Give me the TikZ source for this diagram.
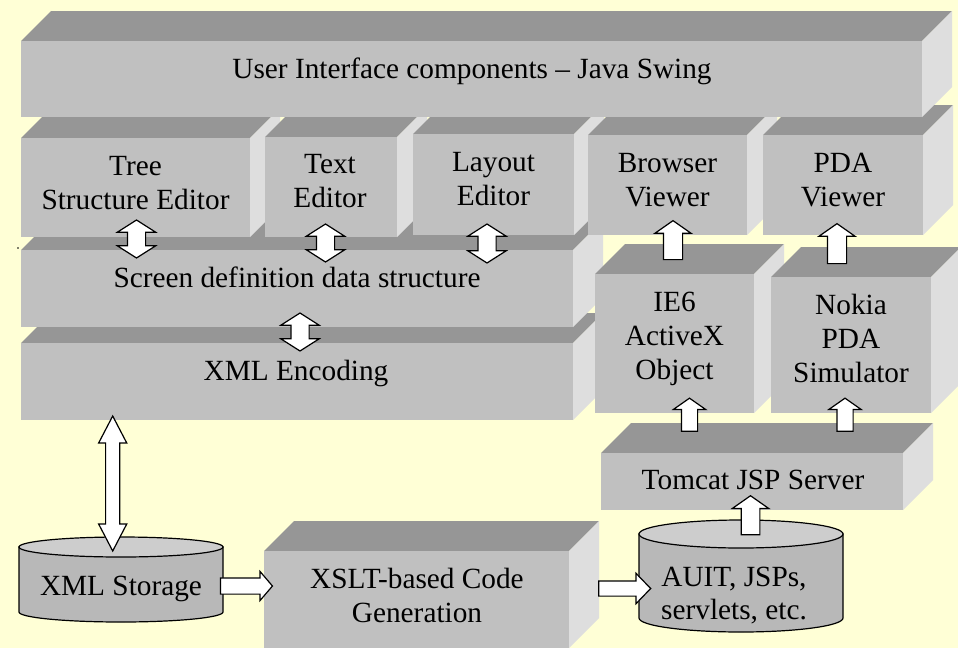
\documentclass[tikz,border=0pt]{standalone}
\usepackage{fontspec}
\setmainfont{Liberation Serif}
\usetikzlibrary{shapes.arrows}
\definecolor{bgc}{HTML}{FFFFD6}
\definecolor{frontc}{HTML}{C0C0C0}
\definecolor{topc}{HTML}{969696}
\definecolor{sidec}{HTML}{DEDEDE}
\definecolor{cylbody}{HTML}{B8B8B8}
\definecolor{cyltop}{HTML}{CDCDCD}
\tikzset{
  front/.style={fill=frontc, draw=none, inner sep=0pt, outer sep=0pt},
  lbl/.style={font=\fontsize{29.3}{34}\selectfont, align=center, inner sep=0pt, anchor=north},
  cyl/.style={draw=black, line width=1.2pt},
  uparr/.style={single arrow, draw=black, fill=white, line width=1.2pt, inner xsep=0pt,
     single arrow head indent=0pt, rotate=90},
  rarr/.style={single arrow, draw=black, fill=white, line width=1.2pt, inner xsep=0pt,
     single arrow head indent=0pt},
  dbarr/.style={double arrow, draw=black, fill=white, line width=1.2pt, inner xsep=0pt,
     double arrow head indent=0pt, rotate=90}
}
\newcommand\cubebox[5]{%
  \fill[topc] (#2,#3) -- ({#2+30},{#3-30}) -- ({#4+30},{#3-30}) -- (#4,#3) -- cycle;
  \fill[sidec] (#4,#3) -- ({#4+30},{#3-30}) -- ({#4+30},{#5-30}) -- (#4,#5) -- cycle;
  \node[front, minimum width={#4-#2}, minimum height={#5-#3}] (#1) at ({(#2+#4)/2},{(#3+#5)/2}) {};
}
\begin{document}
\begin{tikzpicture}[x=1pt, y=-1pt]
\fill[bgc] (0,0) rectangle (958,648);
\useasboundingbox (0,0) rectangle (958,648);
\clip (0,0) rectangle (958,648);

% boxes, back to front
\cubebox{xslt}{264}{551}{569}{648}
\cubebox{tomcat}{601}{453}{903}{510}
\cubebox{xmlenc}{21}{343}{573}{420}
\cubebox{screen}{21}{250}{573}{327}
\cubebox{ie6}{595}{274}{754}{413}
\cubebox{nokia}{771}{277}{931}{413}
\cubebox{tree}{21}{138}{250}{237}
\cubebox{text}{265}{137}{397}{237}
\cubebox{layout}{413}{134}{574}{235}
\cubebox{browser}{588}{135}{747}{235}
\cubebox{pda}{763}{135}{923}{235}
\cubebox{ui}{21}{41}{922}{117}

% cylinders
\filldraw[cyl, fill=cylbody] (19,547) -- (19,612) arc[start angle=180, end angle=0, x radius=102, y radius=10] -- (223,547) -- cycle;
\filldraw[cyl, fill=cyltop] (121,547) ellipse [x radius=102, y radius=10];
\filldraw[cyl, fill=cylbody] (639,534) -- (639,618) arc[start angle=180, end angle=0, x radius=102, y radius=14] -- (843,534) -- cycle;
\filldraw[cyl, fill=cyltop] (741,534) ellipse [x radius=102, y radius=14];

% labels
\node[lbl] (uit) at (472,57.5) {User Interface components – Java Swing};
\node[lbl] (treet) at (135.5,156) {Tree\\Structure Editor};
\node[lbl] (textt) at (330,154) {Text\\Editor};
\node[lbl] (layoutt) at (493.5,152) {Layout\\Editor};
\node[lbl] (browsert) at (667.5,153) {Browser\\Viewer};
\node[lbl] (pdat) at (843,153) {PDA\\Viewer};
\node[lbl] (screent) at (297,266.5) {Screen definition data structure};
\node[lbl] (xmlenct) at (296,359.5) {XML Encoding};
\node[lbl] (ie6t) at (674.5,292) {IE6\\ActiveX\\Object};
\node[lbl] (nokiat) at (851,293.5) {Nokia\\PDA\\Simulator};
\node[lbl] (tomcatt) at (753,470) {Tomcat JSP Server};
\node[lbl] (xsltt) at (417,567.5) {XSLT-based Code\\Generation};
\node[lbl] (storaget) at (121,576) {XML Storage};
\node[lbl, font=\fontsize{29.3}{33}\selectfont] (auitt) at (734,567) {AUIT, JSPs,\\servlets, etc.};

% block arrows
\node[dbarr, minimum height=38pt, inner ysep=8.5pt, double arrow head extend=10pt, double arrow tip angle=115] (a1) at (136.5,239) {};
\node[dbarr, minimum height=38pt, inner ysep=8.5pt, double arrow head extend=10pt, double arrow tip angle=115] (a2) at (325.5,243) {};
\node[dbarr, minimum height=39pt, inner ysep=8.5pt, double arrow head extend=10pt, double arrow tip angle=115] (a3) at (487,243.5) {};
\node[dbarr, minimum height=38pt, inner ysep=8.5pt, double arrow head extend=10pt, double arrow tip angle=115] (a4) at (300,332) {};
\node[uparr, minimum height=39pt, inner ysep=9pt, single arrow head extend=8.5pt, single arrow tip angle=110] (a5) at (673,243.5) {};
\node[uparr, minimum height=40pt, inner ysep=9pt, single arrow head extend=8.5pt, single arrow tip angle=110] (a6) at (837,247) {};
\node[uparr, minimum height=33pt, inner ysep=7.5pt, single arrow head extend=8pt, single arrow tip angle=110] (a7) at (689.5,417.5) {};
\node[uparr, minimum height=33pt, inner ysep=7.5pt, single arrow head extend=8pt, single arrow tip angle=110] (a8) at (845,417.5) {};
\node[uparr, minimum height=39pt, inner ysep=8.75pt, single arrow head extend=8.75pt, single arrow tip angle=110] (a9) at (750.5,518.5) {};
\node[dbarr, minimum height=135pt, inner ysep=6.5pt, double arrow head extend=7pt, double arrow tip angle=55] (a10) at (112.7,483.5) {};
\node[rarr, minimum height=52pt, inner ysep=7.5pt, single arrow head extend=6.5pt, single arrow tip angle=99] (a11) at (243,586) {};
\node[rarr, minimum height=52pt, inner ysep=7pt, single arrow head extend=7.5pt, single arrow tip angle=92] (a12) at (621,588.5) {};

\fill (18,248) circle (0.9pt);
\end{tikzpicture}
\end{document}
